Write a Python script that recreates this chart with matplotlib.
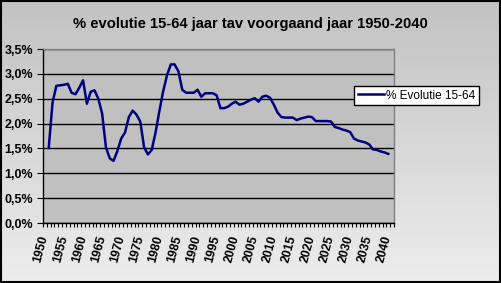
import numpy as np
import matplotlib
matplotlib.use("Agg")
import matplotlib.pyplot as plt
from matplotlib.ticker import FuncFormatter, MultipleLocator, FixedLocator
from matplotlib.patches import Rectangle

years = list(range(1951, 2041))
evolutie = [
    1.51, 2.42, 2.76, 2.77, 2.78, 2.80, 2.62, 2.59, 2.72, 2.87,   # 1951-1960
    2.40, 2.64, 2.67, 2.50, 2.20, 1.52, 1.30, 1.25, 1.45, 1.70,   # 1961-1970
    1.82, 2.13, 2.26, 2.18, 2.04, 1.52, 1.38, 1.47, 1.82, 2.25,   # 1971-1980
    2.65, 2.97, 3.19, 3.19, 3.05, 2.68, 2.62, 2.62, 2.62, 2.68,   # 1981-1990
    2.54, 2.61, 2.61, 2.61, 2.57, 2.31, 2.31, 2.34, 2.40, 2.44,   # 1991-2000
    2.38, 2.40, 2.44, 2.48, 2.51, 2.44, 2.54, 2.56, 2.52, 2.38,   # 2001-2010
    2.22, 2.13, 2.12, 2.12, 2.12, 2.07, 2.10, 2.12, 2.14, 2.13,   # 2011-2020
    2.05, 2.05, 2.05, 2.05, 2.04, 1.93, 1.91, 1.88, 1.86, 1.83,   # 2021-2030
    1.70, 1.66, 1.64, 1.62, 1.58, 1.48, 1.47, 1.44, 1.42, 1.39,   # 2031-2040
]
label_years = list(range(1950, 2041, 5))
title = "% evolutie 15-64 jaar tav voorgaand jaar 1950-2040"
series_name = "% Evolutie 15-64"

plt.rcParams['font.family'] = ['Liberation Sans', 'DejaVu Sans']

W, H = 501, 283
fig = plt.figure(figsize=(W / 100, H / 100), dpi=100)

# gradient background
bg = fig.add_axes([0, 0, 1, 1])
bg.set_zorder(0)
grad = np.linspace(0, 1, 256).reshape(-1, 1)
top = np.array([0.76, 0.76, 0.76])
bot = np.array([0.93, 0.93, 0.93])
img = top + (bot - top) * grad[..., None]
img = img.reshape(256, 1, 3)
bg.imshow(img, aspect='auto', extent=[0, 1, 0, 1], origin='upper')
bg.set_xlim(0, 1); bg.set_ylim(0, 1)
bg.axis('off')
bg.add_patch(Rectangle((0.001, 0.002), 0.997, 0.995, fill=False, edgecolor='black',
                       linewidth=1.5, transform=bg.transAxes))

left, right = 43 / W, 394 / W
top_px, bot_px = 49, 223
ax = fig.add_axes([left, 1 - bot_px / H, right - left, (bot_px - top_px) / H])
ax.set_zorder(1)
ax.set_facecolor('#c0c0c0')

ax.plot(years, evolutie, color='#000080', linewidth=1.8, label=series_name,
        solid_joinstyle='round', zorder=3)

ax.set_ylim(0, 3.5)
ax.set_xlim(1949.5, 2041.5)
ax.yaxis.set_major_locator(MultipleLocator(0.5))
ax.yaxis.set_major_formatter(FuncFormatter(lambda v, p: f"{v:.1f}%".replace('.', ',')))
ax.grid(axis='y', color='black', linewidth=1.0, zorder=1)
ax.set_axisbelow(True)

ax.xaxis.set_major_locator(FixedLocator(label_years))
ax.xaxis.set_minor_locator(FixedLocator(np.arange(1949.5, 2042, 1.0)))
ax.set_xticklabels([str(y) for y in label_years])
ax.tick_params(axis='x', which='major', length=0, pad=9)
ax.tick_params(axis='x', which='minor', length=3, width=0.8, direction='out', color='black')
ax.tick_params(axis='y', which='major', length=4, width=0.8, direction='out', pad=3)
for lbl in ax.get_xticklabels():
    lbl.set_rotation(75)
    lbl.set_rotation_mode('anchor')
    lbl.set_ha('right')
    lbl.set_va('center')
    lbl.set_fontweight('bold')
    lbl.set_fontsize(8.8)
for lbl in ax.get_yticklabels():
    lbl.set_fontweight('bold')
    lbl.set_fontsize(9)

for s in ['top', 'right']:
    ax.spines[s].set_color('#808080')
    ax.spines[s].set_linewidth(1.0)
for s in ['left', 'bottom']:
    ax.spines[s].set_color('black')
    ax.spines[s].set_linewidth(1.0)

leg = ax.legend(loc='upper left', bbox_to_anchor=(354 / W, 1 - 86 / H),
                bbox_transform=fig.transFigure, frameon=True, fancybox=False,
                edgecolor='black', facecolor='white', framealpha=1,
                fontsize=8.5, borderpad=0.3, handlelength=2.2, handletextpad=0.2,
                borderaxespad=0)
leg.get_frame().set_linewidth(1.0)

fig.text(250 / W, 1 - 24 / H, title, ha='center', va='center',
         fontsize=10.6, fontweight='bold')

fig.savefig('out.png', dpi=100)
